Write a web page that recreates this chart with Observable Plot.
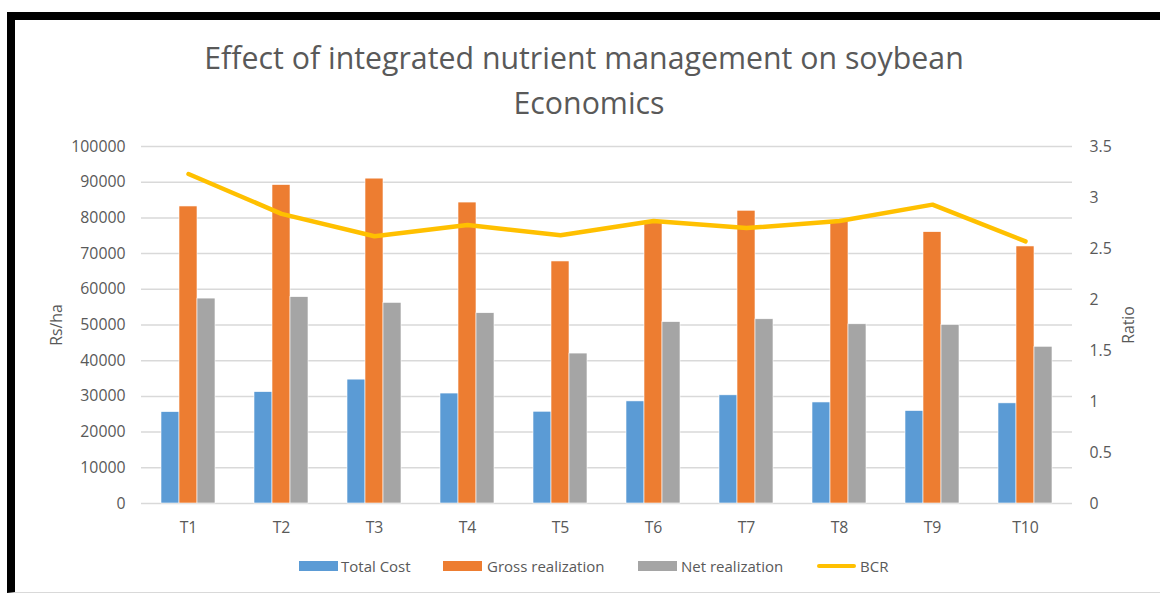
<!DOCTYPE html>
<html>
<head>
<meta charset="utf-8">
<script src="https://cdn.jsdelivr.net/npm/d3@7"></script>
<script src="https://cdn.jsdelivr.net/npm/@observablehq/plot@0.6"></script>
<style>
  html, body { margin: 0; padding: 0; background: #fff; width: 1160px; height: 594px; overflow: hidden; }
  body { font-family: "Open Sans", sans-serif; color: #595959; position: relative; }
  #frame { position: absolute; left: 7px; top: 12px; width: 1160px; height: 572px; border-top: 8px solid #000; border-left: 8px solid #000; border-bottom: 1.5px solid #d9d9d9; box-sizing: content-box; }
  #title { position: absolute; left: 0; width: 1168px; top: 35px; text-align: center; font-size: 30.3px; line-height: 45px; color: #595959; }
  #title span { position: relative; left: 5px; }
  #chart { position: absolute; left: 0; top: 130px; }
  .leg { position: absolute; top: 556px; font-size: 15px; line-height: 20px; color: #595959; white-space: nowrap; }
  .sw { position: absolute; top: 561px; width: 39px; height: 10px; }
</style>
</head>
<body>
<div id="frame"></div>
<div id="title">Effect of integrated nutrient management on soybean<br><span>Economics</span></div>
<div id="chart"></div>
<div id="legend"></div>
<script>
const categories = ["T1", "T2", "T3", "T4", "T5", "T6", "T7", "T8", "T9", "T10"];
const totalCost = [25600, 31200, 34700, 30800, 25700, 28600, 30300, 28300, 25900, 28050];
const grossRealization = [83200, 89200, 91000, 84300, 67800, 79200, 82000, 79000, 76000, 72000];
const netRealization = [57400, 57800, 56200, 53300, 42000, 50800, 51600, 50200, 50000, 43900];
const bcr = [3.23, 2.84, 2.62, 2.73, 2.63, 2.77, 2.70, 2.77, 2.93, 2.57];
const leftTicks = [0, 10000, 20000, 30000, 40000, 50000, 60000, 70000, 80000, 90000, 100000];
const ratioTicks = [0, 0.5, 1, 1.5, 2, 2.5, 3, 3.5];
const seriesNames = ["Total Cost", "Gross realization", "Net realization", "BCR"];
const seriesColors = ["#5B9BD5", "#ED7D31", "#A5A5A5", "#FFC000"];

const yMax = 100000, rMax = 3.5;
const K = yMax / rMax;

const barW = 18;
const bars = [totalCost, grossRealization, netRealization];

const chart = Plot.plot({
  width: 1160,
  height: 420,
  marginLeft: 141,
  marginRight: 88,
  marginTop: 16,
  marginBottom: 47,
  style: { fontFamily: "Open Sans, sans-serif", fontSize: "15.8px", color: "#595959", background: "transparent" },
  x: { type: "band", domain: categories, paddingInner: 0.8067, paddingOuter: 0.4033 },
  y: { domain: [0, yMax] },
  marks: [
    Plot.gridY(leftTicks, { stroke: "#D9D9D9", strokeOpacity: 1, strokeWidth: 1.5 }),
    ...bars.map((vals, s) => Plot.barY(categories, {
      x: d => d,
      y: (d, i) => vals[i],
      fill: seriesColors[s],
      stroke: "#ffffff",
      strokeWidth: 0.6,
      dx: (s - 1) * barW
    })),
    Plot.line(categories, {
      x: d => d,
      y: (d, i) => bcr[i] * K,
      stroke: seriesColors[3],
      strokeWidth: 4.5,
      strokeLinecap: "round",
      strokeLinejoin: "round"
    }),
    Plot.axisY(leftTicks, {
      anchor: "left", tickSize: 0, tickPadding: 16,
      tickFormat: d => String(d),
      label: "Rs/ha", labelAnchor: "center", labelArrow: "none", labelOffset: 91
    }),
    Plot.axisY(ratioTicks.map(r => r * K), {
      anchor: "right", tickSize: 0, tickPadding: 17,
      tickFormat: d => String(Math.round(d / K * 10) / 10),
      label: "Ratio", labelAnchor: "center", labelArrow: "none", labelOffset: 61
    }),
    Plot.axisX({ tickSize: 0, tickPadding: 18, label: null })
  ]
});
document.getElementById("chart").appendChild(chart);

// legend
const legend = document.getElementById("legend");
const legX = [[299, 341], [443, 487], [638, 681], [817, 860]];
seriesNames.forEach((name, i) => {
  const sw = document.createElement("div");
  sw.className = "sw";
  sw.style.left = legX[i][0] + "px";
  sw.style.background = seriesColors[i];
  if (i === 3) { sw.style.top = "564px"; sw.style.height = "4px"; sw.style.borderRadius = "2px"; }
  legend.appendChild(sw);
  const t = document.createElement("div");
  t.className = "leg";
  t.style.left = legX[i][1] + "px";
  t.textContent = name;
  legend.appendChild(t);
});
</script>
</body>
</html>
